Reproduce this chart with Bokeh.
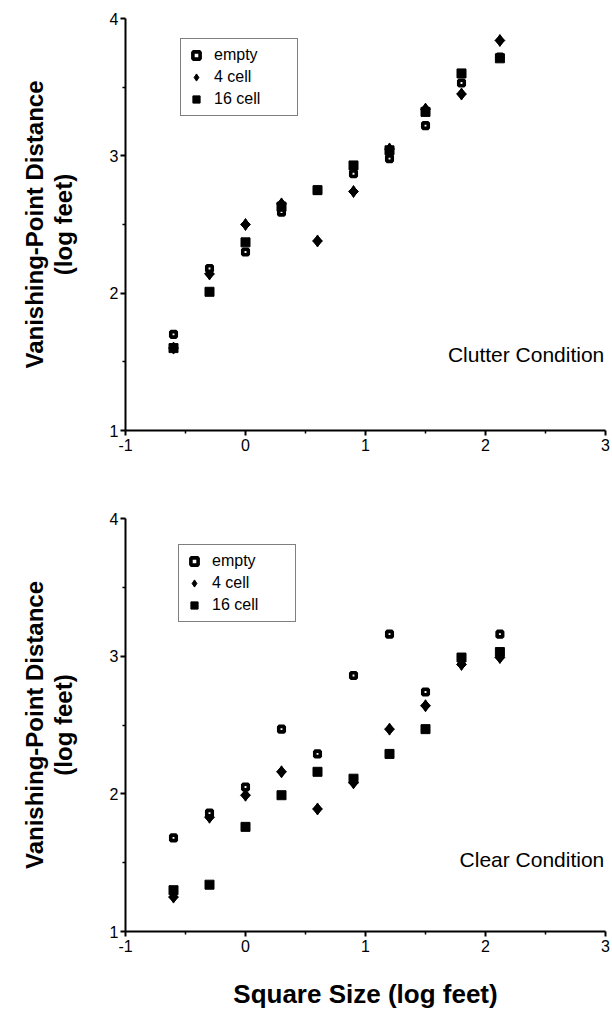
import math
from bokeh.plotting import figure
from bokeh.layouts import column
from bokeh.models import Range1d, Legend, LegendItem, Label, FixedTicker
from bokeh.embed import file_html
from bokeh.resources import INLINE

# ---------------- data ----------------
square_size = [-0.6, -0.3, 0.0, 0.3, 0.6, 0.9, 1.2, 1.5, 1.8, 2.12]

clutter_empty = [1.70, 2.18, 2.30, 2.59, 2.75, 2.87, 2.98, 3.22, 3.53, 3.72]
clutter_4cell = [1.60, 2.14, 2.50, 2.65, 2.38, 2.74, 3.05, 3.34, 3.45, 3.84]
clutter_16cell = [1.60, 2.01, 2.37, 2.63, 2.75, 2.93, 3.04, 3.32, 3.60, 3.71]

clear_empty = [1.68, 1.86, 2.05, 2.47, 2.29, 2.86, 3.16, 2.74, 2.99, 3.16]
clear_4cell = [1.25, 1.83, 1.99, 2.16, 1.89, 2.08, 2.47, 2.64, 2.94, 2.99]
clear_16cell = [1.30, 1.34, 1.76, 1.99, 2.16, 2.11, 2.29, 2.47, 2.99, 3.03]

series_names = ["empty", "4 cell", "16 cell"]
x_ticks = [-1, 0, 1, 2, 3]
x_minor = [-0.5, 0.5, 1.5, 2.5]
y_ticks = [1, 2, 3, 4]
y_minor = [1.5, 2.5, 3.5]

FONT = "Liberation Sans"


def make_panel(empty, four, sixteen, cond_text, cond_y, height, top, frame_h,
               legend_loc, x_title=None):
    bottom = height - top - frame_h
    p = figure(width=612, height=height, output_backend="svg",
               toolbar_location=None,
               x_range=Range1d(-1, 3), y_range=Range1d(1, 4),
               min_border_left=125, min_border_right=7,
               min_border_top=top, min_border_bottom=bottom)
    p.outline_line_color = None
    p.xgrid.visible = False
    p.ygrid.visible = False
    p.background_fill_color = "white"
    p.border_fill_color = "white"

    for ax in (p.xaxis[0], p.yaxis[0]):
        ax.axis_line_color = "black"
        ax.axis_line_width = 2
        ax.major_tick_line_color = "black"
        ax.major_tick_line_width = 2
        ax.minor_tick_line_color = "black"
        ax.minor_tick_line_width = 1.5
        ax.major_tick_in = 0
        ax.major_tick_out = 5
        ax.minor_tick_in = 0
        ax.minor_tick_out = 3
        ax.major_label_text_font = FONT
        ax.major_label_text_font_size = "16px"
        ax.major_label_text_color = "black"
        ax.axis_label_text_font = FONT
        ax.axis_label_text_font_style = "bold"
        ax.axis_label_text_font_size = "24px"
        ax.axis_label_text_color = "black"

    p.xaxis[0].ticker = FixedTicker(ticks=x_ticks, minor_ticks=x_minor)
    p.yaxis[0].ticker = FixedTicker(ticks=y_ticks, minor_ticks=y_minor)
    p.xaxis[0].major_label_overrides = {t: str(t) for t in x_ticks}
    p.xaxis[0].major_label_standoff = 3
    p.yaxis[0].major_label_standoff = 2

    p.yaxis[0].axis_label = "Vanishing-Point Distance\n(log feet)"
    p.yaxis[0].axis_label_text_line_height = 1.05
    p.yaxis[0].axis_label_standoff = 30
    if x_title:
        p.xaxis[0].axis_label = x_title
        p.xaxis[0].axis_label_text_font_size = "26px"
        p.xaxis[0].axis_label_standoff = 24

    # 4 cell: diamond (also used by the legend) under a rotated square
    r4 = p.scatter(square_size, four, marker="diamond", size=12,
                   fill_color="black", line_color="black")
    p.scatter(square_size, four, marker="square", angle=math.pi / 4,
              size=7, fill_color="black", line_color="black")
    re = p.scatter(square_size, empty, marker="square", size=5.5,
                   fill_color="white", line_color="black", line_width=3.6)
    r16 = p.scatter(square_size, sixteen, marker="square", size=9,
                    fill_color="black", line_color="black")

    legend = Legend(items=[LegendItem(label=series_names[0], renderers=[re]),
                           LegendItem(label=series_names[1], renderers=[r4]),
                           LegendItem(label=series_names[2], renderers=[r16])],
                    location=legend_loc)
    legend.border_line_color = "black"
    legend.border_line_width = 1.5
    legend.background_fill_color = "white"
    legend.background_fill_alpha = 1
    legend.padding = 6
    legend.spacing = 2
    legend.margin = 0
    legend.glyph_width = 18
    legend.glyph_height = 20
    legend.label_height = 20
    legend.label_width = 77
    legend.label_standoff = 9
    legend.label_text_font = FONT
    legend.label_text_font_size = "16px"
    legend.label_text_color = "black"
    p.add_layout(legend)

    p.add_layout(Label(x=2.99, y=cond_y, text=cond_text, text_align="right",
                       text_baseline="middle", text_font=FONT,
                       text_font_size="21px", text_color="black"))
    return p


p1 = make_panel(clutter_empty, clutter_4cell, clutter_16cell,
                "Clutter Condition", 1.55, 480, 18, 412, (55, 314))
p2 = make_panel(clear_empty, clear_4cell, clear_16cell,
                "Clear Condition", 1.52, 534, 38, 413, (53, 309),
                x_title="Square Size (log feet)")

layout = column(p1, p2, spacing=0)
open("out.html", "w").write(file_html(layout, INLINE))
